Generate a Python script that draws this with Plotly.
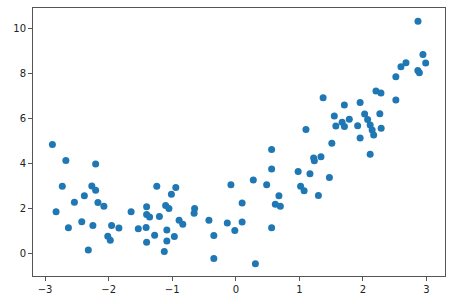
import plotly.graph_objects as go

x_vals = [
    -2.885, -2.673, -2.205, -2.729, -2.265, -2.205, -2.382, -2.539, -2.169, -2.075,
    -2.827, -2.423, -2.633, -2.248, -1.954, -1.839, -2.014, -1.974, -2.320, -1.647,
    -1.403, -1.403, -1.356, -1.243, -1.202, -1.534, -1.411, -1.277, -1.403, -1.104,
    -1.052, -1.013, -0.944, -1.085, -1.085, -1.125, -0.967, -0.892, -0.834, -0.648,
    -0.656, -0.423, -0.346, -0.346, -0.134, -0.016, 0.099, 0.099, -0.077, 0.275,
    0.308, 0.485, 0.563, 0.563, 0.563, 0.678, 0.621, 0.700, 0.980, 1.019,
    1.074, 1.166, 1.299, 1.472, 1.224, 1.235, 1.339, 1.510, 1.103, 1.373,
    1.549, 1.785, 1.672, 1.573, 1.708, 1.707, 1.916, 1.955, 1.955, 2.113,
    2.026, 2.073, 2.113, 2.144, 2.168, 2.265, 2.286, 2.204, 2.283, 2.517,
    2.517, 2.597, 2.676, 2.863, 2.887, 2.943, 2.986, 2.865,
]
y_vals = [
    4.84, 4.13, 3.97, 2.99, 3.00, 2.81, 2.56, 2.28, 2.26, 2.10,
    1.85, 1.41, 1.14, 1.24, 1.24, 1.13, 0.76, 0.59, 0.16, 1.85,
    2.08, 1.73, 1.62, 2.99, 1.64, 1.10, 1.15, 0.81, 0.50, 2.13,
    2.00, 2.63, 2.93, 1.04, 0.55, 0.09, 0.75, 1.47, 1.30, 2.00,
    1.79, 1.47, 0.80, -0.22, 1.35, 1.02, 1.40, 2.24, 3.05, 3.26,
    -0.46, 3.05, 4.62, 3.75, 1.14, 2.56, 2.19, 2.10, 3.64, 2.98,
    2.78, 3.54, 2.57, 3.37, 4.24, 4.12, 4.30, 4.89, 5.51, 6.92,
    6.10, 5.96, 5.83, 5.66, 5.64, 6.59, 5.67, 5.13, 6.70, 4.41,
    6.19, 5.95, 5.70, 5.48, 5.26, 6.20, 5.56, 7.21, 7.13, 7.85,
    6.81, 8.29, 8.47, 8.13, 8.03, 8.84, 8.46, 10.31,
]
x_ticks = [-3, -2, -1, 0, 1, 2, 3]
y_ticks = [0, 2, 4, 6, 8, 10]

fig = go.Figure(
    go.Scatter(
        x=x_vals, y=y_vals, mode="markers",
        marker=dict(color="#1f77b4", size=7, line=dict(width=0)),
        hoverinfo="skip",
    )
)

axis_common = dict(
    showgrid=False, zeroline=False, showline=True, mirror=True,
    linecolor="#555", linewidth=1, ticks="outside", ticklen=4,
    tickcolor="#555", tickwidth=1,
    tickfont=dict(family="DejaVu Sans", size=10, color="#222"),
)

fig.update_layout(
    width=456, height=304,
    margin=dict(l=33, r=11, t=8, b=28),
    paper_bgcolor="white", plot_bgcolor="white",
    showlegend=False,
    xaxis=dict(range=[-3.19, 3.29], tickvals=x_ticks, **axis_common),
    yaxis=dict(range=[-1.0, 10.9], tickvals=y_ticks, **axis_common),
)

fig.write_html("out.html")
